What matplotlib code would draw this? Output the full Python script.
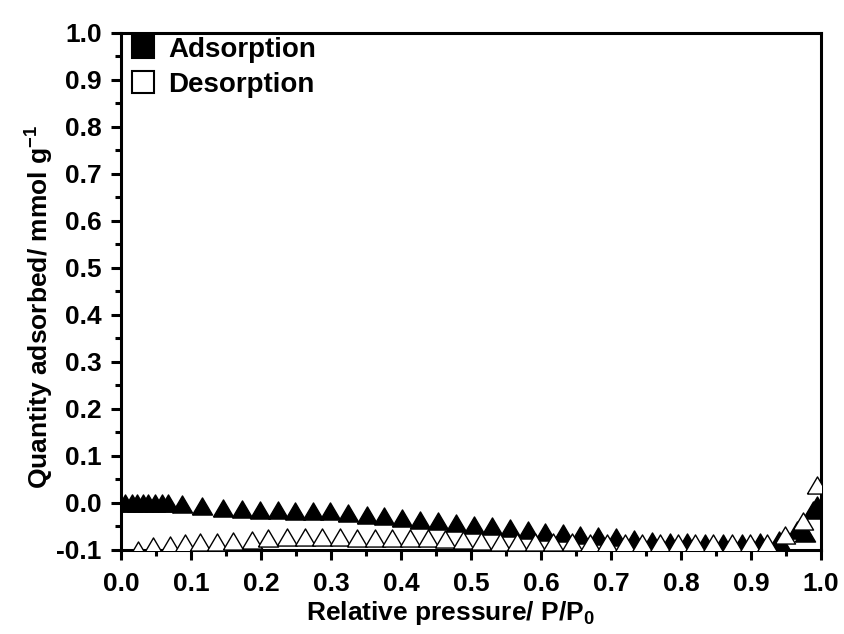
import matplotlib
matplotlib.use("Agg")
import matplotlib.pyplot as plt
from matplotlib.ticker import MultipleLocator, FormatStrFormatter

plt.rcParams['font.family'] = ['Liberation Sans', 'DejaVu Sans']
plt.rcParams['font.weight'] = 'bold'
plt.rcParams['axes.unicode_minus'] = False
plt.rcParams['mathtext.fontset'] = 'custom'
plt.rcParams['mathtext.rm'] = 'Liberation Sans:bold'
plt.rcParams['mathtext.it'] = 'Liberation Sans:bold'
plt.rcParams['mathtext.bf'] = 'Liberation Sans:bold'
plt.rcParams['mathtext.default'] = 'bf'

# Adsorption branch
ads_x = [0.006, 0.015, 0.023, 0.031, 0.039, 0.049, 0.059, 0.067, 0.087, 0.116,
         0.146, 0.173, 0.199, 0.224, 0.249, 0.274, 0.299, 0.324, 0.351, 0.376,
         0.401, 0.427, 0.453, 0.479, 0.504, 0.530, 0.556, 0.581, 0.606, 0.631,
         0.656, 0.681, 0.707, 0.733, 0.759, 0.784, 0.809, 0.834, 0.860, 0.887,
         0.913, 0.940, 0.966, 0.977, 0.989, 0.994]
ads_y = [0.000, -0.001, 0.001, -0.001, 0.000, -0.001, 0.000, -0.001, -0.003, -0.007,
         -0.010, -0.012, -0.014, -0.015, -0.016, -0.016, -0.018, -0.022, -0.026, -0.028,
         -0.032, -0.036, -0.039, -0.043, -0.047, -0.048, -0.054, -0.058, -0.061, -0.064,
         -0.069, -0.071, -0.073, -0.077, -0.080, -0.082, -0.084, -0.085, -0.086, -0.086,
         -0.083, -0.078, -0.058, -0.064, -0.015, -0.005]

# Desorption branch
des_x = [0.024, 0.046, 0.070, 0.091, 0.113, 0.137, 0.160, 0.187, 0.210, 0.237,
         0.263, 0.287, 0.313, 0.337, 0.363, 0.387, 0.413, 0.439, 0.463, 0.489,
         0.515, 0.541, 0.566, 0.591, 0.617, 0.644, 0.670, 0.694, 0.720, 0.744,
         0.770, 0.796, 0.820, 0.846, 0.873, 0.899, 0.923, 0.949, 0.974, 0.994]
des_y = [-0.101, -0.092, -0.090, -0.086, -0.082, -0.082, -0.080, -0.078, -0.075, -0.073,
         -0.073, -0.073, -0.073, -0.074, -0.074, -0.074, -0.075, -0.075, -0.076, -0.078,
         -0.080, -0.082, -0.083, -0.083, -0.084, -0.084, -0.085, -0.085, -0.085, -0.085,
         -0.085, -0.085, -0.086, -0.086, -0.086, -0.086, -0.085, -0.068, -0.038, 0.039]

x_label = 'Relative pressure/ P/P$_{0}$'
y_label = 'Quantity adsorbed/ mmol g$^{-1}$'
legend_labels = ['Adsorption', 'Desorption']

tri = [(-1, -0.85), (1, -0.85), (0, 0.85), (-1, -0.85)]

fig = plt.figure(figsize=(8.44, 6.34), dpi=100)
ax = fig.add_axes([0.1434, 0.1325, 0.8293, 0.8155])

ax.plot(ads_x, ads_y, linestyle='none', marker=tri, markersize=14.5,
        markerfacecolor='black', markeredgecolor='black', markeredgewidth=1, zorder=3)
ax.plot(des_x, des_y, linestyle='none', marker=tri, markersize=14.5,
        markerfacecolor='white', markeredgecolor='black', markeredgewidth=1, zorder=4)

ax.set_xlim(0, 1.0)
ax.set_ylim(-0.1, 1.0)
ax.xaxis.set_major_locator(MultipleLocator(0.1))
ax.xaxis.set_minor_locator(MultipleLocator(0.05))
ax.yaxis.set_major_locator(MultipleLocator(0.1))
ax.yaxis.set_minor_locator(MultipleLocator(0.05))
ax.xaxis.set_major_formatter(FormatStrFormatter('%.1f'))
ax.yaxis.set_major_formatter(FormatStrFormatter('%.1f'))

for s in ax.spines.values():
    s.set_linewidth(2.2)
ax.tick_params(which='major', direction='out', length=7, width=2.2, labelsize=19)
ax.tick_params(axis='x', which='major', pad=9)
ax.tick_params(axis='y', which='major', pad=7)
ax.tick_params(which='minor', direction='out', length=4, width=2.2)
ax.tick_params(top=False, right=False, which='both')

ax.set_xlabel(x_label, fontsize=19, fontweight='bold')
ax.set_ylabel(y_label, fontsize=19, fontweight='bold')
ax.xaxis.set_label_coords(0.471, -0.095)
ax.yaxis.set_label_coords(-0.093, 0.47)

h1 = ax.plot([], [], linestyle='none', marker='s', markersize=15.5,
             markerfacecolor='black', markeredgecolor='black', markeredgewidth=1.5)[0]
h2 = ax.plot([], [], linestyle='none', marker='s', markersize=15.5,
             markerfacecolor='white', markeredgecolor='black', markeredgewidth=1.5)[0]
ax.legend([h1, h2], legend_labels, loc='upper left', bbox_to_anchor=(0.006, 1.003),
          frameon=False, prop={'size': 20, 'weight': 'bold'}, handlelength=0.9,
          handletextpad=0.45, labelspacing=0.32, borderaxespad=0.0, borderpad=0.2)

fig.savefig('out.png', dpi=100)
